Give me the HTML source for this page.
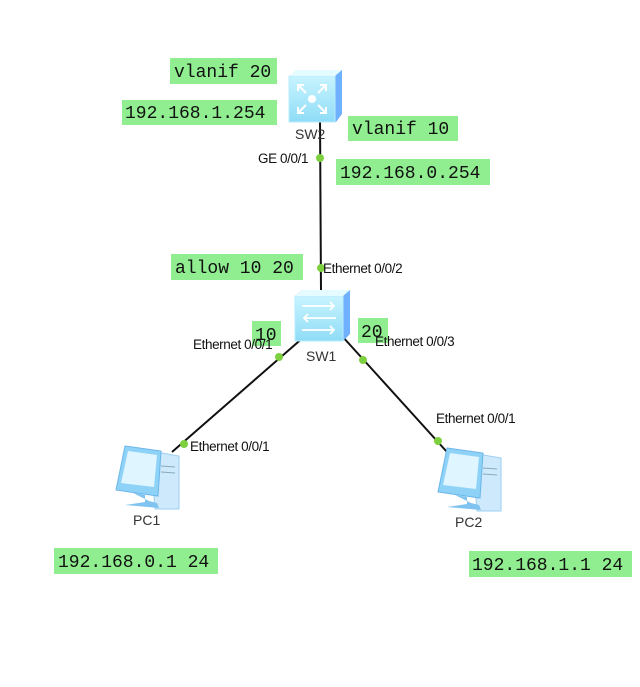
<!DOCTYPE html>
<html><head><meta charset="utf-8"><style>
html,body{margin:0;padding:0;background:#fff;}
svg{display:block;}
.m{font-family:"Liberation Mono",monospace;font-size:18px;fill:#111;}
.s{font-family:"Liberation Sans",Arial,sans-serif;font-size:13.5px;fill:#111;letter-spacing:-0.4px;}
.n{font-family:"Liberation Sans",Arial,sans-serif;font-size:14px;fill:#333;}
.g{fill:#90ee90;}
</style></head><body>
<svg width="640" height="687" viewBox="0 0 640 687" xmlns="http://www.w3.org/2000/svg">
<defs>
<linearGradient id="sw" x1="0" y1="0" x2="0" y2="1"><stop offset="0" stop-color="#c8f4ff"/><stop offset="1" stop-color="#8fdcf6"/></linearGradient>
<g id="pc">
  <path d="M35 5 L64 10 L64 63 L40 63 Z" fill="#cde9fb" stroke="#9ccff0"/>
  <line x1="46" y1="20" x2="60" y2="21" stroke="#8ab"/>
  <line x1="46" y1="26" x2="60" y2="27" stroke="#8ab"/>
  <path d="M10 0 L46 5 L43 50 L1 44 Z" fill="#8fd2f7" stroke="#6ab6ea"/>
  <path d="M13 5 L42 9 L39 41 L6 37 Z" fill="#dff5ff"/>
  <path d="M18 47 L30 49 L30 56 L10 59 L44 62 L42 57 L34 55 Z" fill="#7fc3f0"/>
</g>
</defs>

<line x1="320" y1="118" x2="321" y2="292" stroke="#111" stroke-width="2"/>
<line x1="305" y1="336" x2="172" y2="452" stroke="#111" stroke-width="2"/>
<line x1="342" y1="336" x2="447" y2="452" stroke="#111" stroke-width="2"/>

<g>
  <path d="M289 78 L296 70 L342 70 L342 114 L336 122 L289 122 Z" fill="#6fb0ff"/>
  <rect x="289" y="76" width="46" height="46" fill="url(#sw)" stroke="#b8ecff"/>
  <path d="M296 70 L342 70 L335 76 L289 76 Z" fill="#e4fbff"/>
  <circle cx="312" cy="99" r="4" fill="#fff"/>
  <g stroke="#fff" stroke-width="2" fill="none">
    <path d="M298 85 L306 93 M298 91 L298 85 L304 85"/>
    <path d="M326 85 L318 93 M326 91 L326 85 L320 85"/>
    <path d="M298 113 L306 105 M298 107 L298 113 L304 113"/>
    <path d="M326 113 L318 105 M326 107 L326 113 L320 113"/>
  </g>
</g>
<g>
  <path d="M295 296 L302 290 L350 290 L350 334 L343 341 L295 341 Z" fill="#6fb0ff"/>
  <rect x="295" y="296" width="48" height="45" fill="url(#sw)" stroke="#b8ecff"/>
  <path d="M302 290 L350 290 L343 296 L295 296 Z" fill="#e4fbff"/>
  <g stroke="#fff" stroke-width="1.8" fill="none">
    <path d="M302 306 L334 306 M330 302 L334 306 L330 310"/>
    <path d="M336 318 L304 318 M308 314 L304 318 L308 322"/>
    <path d="M302 330 L334 330 M330 326 L334 330 L330 334"/>
  </g>
</g>

<use href="#pc" x="115" y="446"/>
<use href="#pc" x="437" y="448"/>

<circle cx="320" cy="158" r="4" fill="#7ed13e"/>
<circle cx="321" cy="268" r="4" fill="#7ed13e"/>
<circle cx="279" cy="357" r="4" fill="#7ed13e"/>
<circle cx="363" cy="360" r="4" fill="#7ed13e"/>
<circle cx="184" cy="444" r="4" fill="#7ed13e"/>
<circle cx="438" cy="441" r="4" fill="#7ed13e"/>

<rect class="g" x="170" y="58" width="107" height="26"/><text class="m" x="174" y="77">vlanif 20</text>
<rect class="g" x="122" y="100" width="155" height="25"/><text class="m" x="125" y="118">192.168.1.254</text>
<rect class="g" x="348" y="116" width="110" height="25"/><text class="m" x="352" y="134">vlanif 10</text>
<rect class="g" x="336" y="159" width="154" height="26"/><text class="m" x="340" y="178">192.168.0.254</text>
<rect class="g" x="171" y="254" width="132" height="26"/><text class="m" x="175" y="273">allow 10 20</text>
<rect class="g" x="252" y="321" width="29" height="25"/><text class="m" x="255" y="340">10</text>
<rect class="g" x="358" y="318" width="30" height="25"/><text class="m" x="361" y="337">20</text>
<rect class="g" x="54" y="548" width="164" height="26"/><text class="m" x="58" y="567">192.168.0.1 24</text>
<rect class="g" x="469" y="551" width="163" height="26"/><text class="m" x="472" y="570">192.168.1.1 24</text>

<text class="n" x="295" y="139">SW2</text>
<text class="s" x="258" y="163">GE 0/0/1</text>
<text class="s" x="323" y="273">Ethernet 0/0/2</text>
<text class="n" x="306" y="361">SW1</text>
<text class="s" x="193" y="349">Ethernet 0/0/1</text>
<text class="s" x="375" y="346">Ethernet 0/0/3</text>
<text class="s" x="190" y="451">Ethernet 0/0/1</text>
<text class="s" x="436" y="423">Ethernet 0/0/1</text>
<text class="n" x="133" y="525">PC1</text>
<text class="n" x="455" y="527">PC2</text>
</svg>
</body></html>
